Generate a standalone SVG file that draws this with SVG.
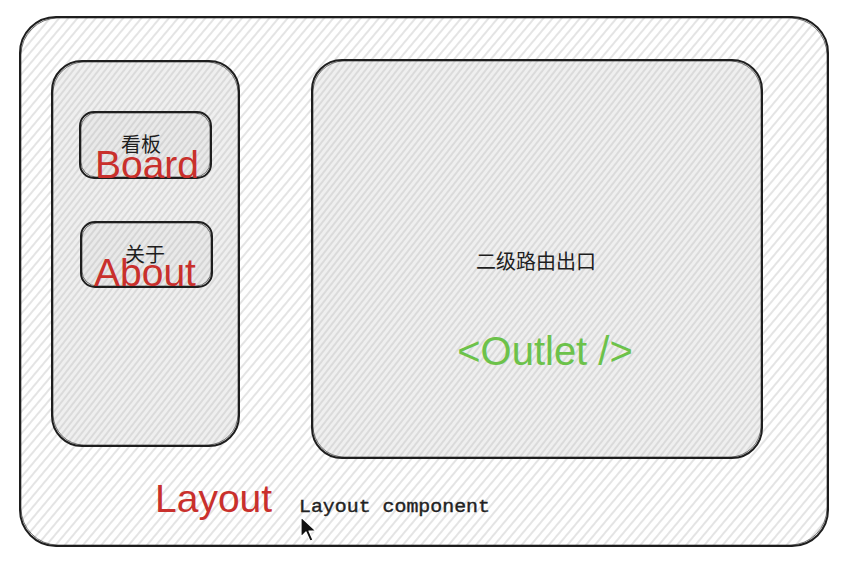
<svg xmlns="http://www.w3.org/2000/svg" width="854" height="562" viewBox="0 0 854 562">
  <defs>
    <pattern id="hatchOuter" width="7" height="7" patternUnits="userSpaceOnUse" patternTransform="rotate(40)">
      <rect width="7" height="7" fill="#ffffff"/>
      <line x1="1" y1="0" x2="1" y2="7" stroke="#c9c9c9" stroke-width="1"/>
    </pattern>
    <pattern id="hatchInner" width="5" height="5" patternUnits="userSpaceOnUse" patternTransform="rotate(38)">
      <rect width="5" height="5" fill="#efefef"/>
      <line x1="1" y1="0" x2="1" y2="5" stroke="#c2c2c2" stroke-width="0.9"/>
    </pattern>
    <pattern id="hatchBtn" width="5" height="5" patternUnits="userSpaceOnUse" patternTransform="rotate(38)">
      <rect width="5" height="5" fill="#e9e9e9"/>
      <line x1="1" y1="0" x2="1" y2="5" stroke="#bdbdbd" stroke-width="0.9"/>
    </pattern>
    <style>
      .box { stroke: #1e1e1e; stroke-width: 2; stroke-linejoin: round; }
      .sketch { fill: none; stroke: #1e1e1e; stroke-width: 1; opacity: 0.6; }
      .zh { font-family: "Noto Sans CJK SC", "Noto Sans", sans-serif; font-size: 20px; fill: #1e1e1e; text-anchor: middle; }
      .red { font-family: "Liberation Sans", Arial, sans-serif; font-size: 39px; fill: #c9302c; }
      .green { font-family: "Liberation Sans", Arial, sans-serif; font-size: 40px; fill: #6cc24a; }
      .mono { font-family: "Liberation Mono", "DejaVu Sans Mono", monospace; font-size: 19px; fill: #222222; stroke: #222222; stroke-width: 0.4; }
    </style>
  </defs>

  <rect width="854" height="562" fill="#ffffff"/>

  <g id="layout">
    <rect class="box" x="20" y="17" width="808" height="529" rx="36" fill="url(#hatchOuter)"/>
    <rect class="sketch" x="21" y="18" width="806" height="527" rx="37"/>
    <text class="red" x="155" y="512">Layout</text>
    <text class="mono" x="299" y="512" textLength="191" lengthAdjust="spacingAndGlyphs">Layout component</text>
  </g>

  <g id="sidebar">
    <rect class="box" x="52" y="61" width="187" height="385" rx="30" fill="url(#hatchInner)"/>
    <rect class="sketch" x="53" y="62" width="185" height="383" rx="31"/>
  </g>

  <g id="board">
    <rect class="box" x="80" y="112" width="131" height="66" rx="14" fill="url(#hatchBtn)"/>
    <rect class="sketch" x="81" y="113" width="129" height="64" rx="15"/>
    <text class="zh" x="141" y="152">看板</text>
    <text class="red" x="147" y="178" text-anchor="middle">Board</text>
  </g>

  <g id="about">
    <rect class="box" x="81" y="222" width="131" height="65" rx="14" fill="url(#hatchBtn)"/>
    <rect class="sketch" x="82" y="223" width="129" height="63" rx="15"/>
    <text class="zh" x="145" y="262">关于</text>
    <text class="red" x="145" y="286" text-anchor="middle">About</text>
  </g>

  <g id="outlet">
    <rect class="box" x="312" y="60" width="450" height="398" rx="30" fill="url(#hatchInner)"/>
    <rect class="sketch" x="313" y="61" width="448" height="396" rx="31"/>
    <text class="zh" x="536" y="269">二级路由出口</text>
    <text class="green" x="545" y="365" text-anchor="middle">&lt;Outlet /&gt;</text>
  </g>

  <g id="connectors"></g>

  <g id="cursor">
    <path d="M301,517 L301,537 L306,532 L310,541 L313,540 L309,531 L316,531 Z" fill="#111111" stroke="#ffffff" stroke-width="1.2" stroke-linejoin="round"/>
  </g>
</svg>
